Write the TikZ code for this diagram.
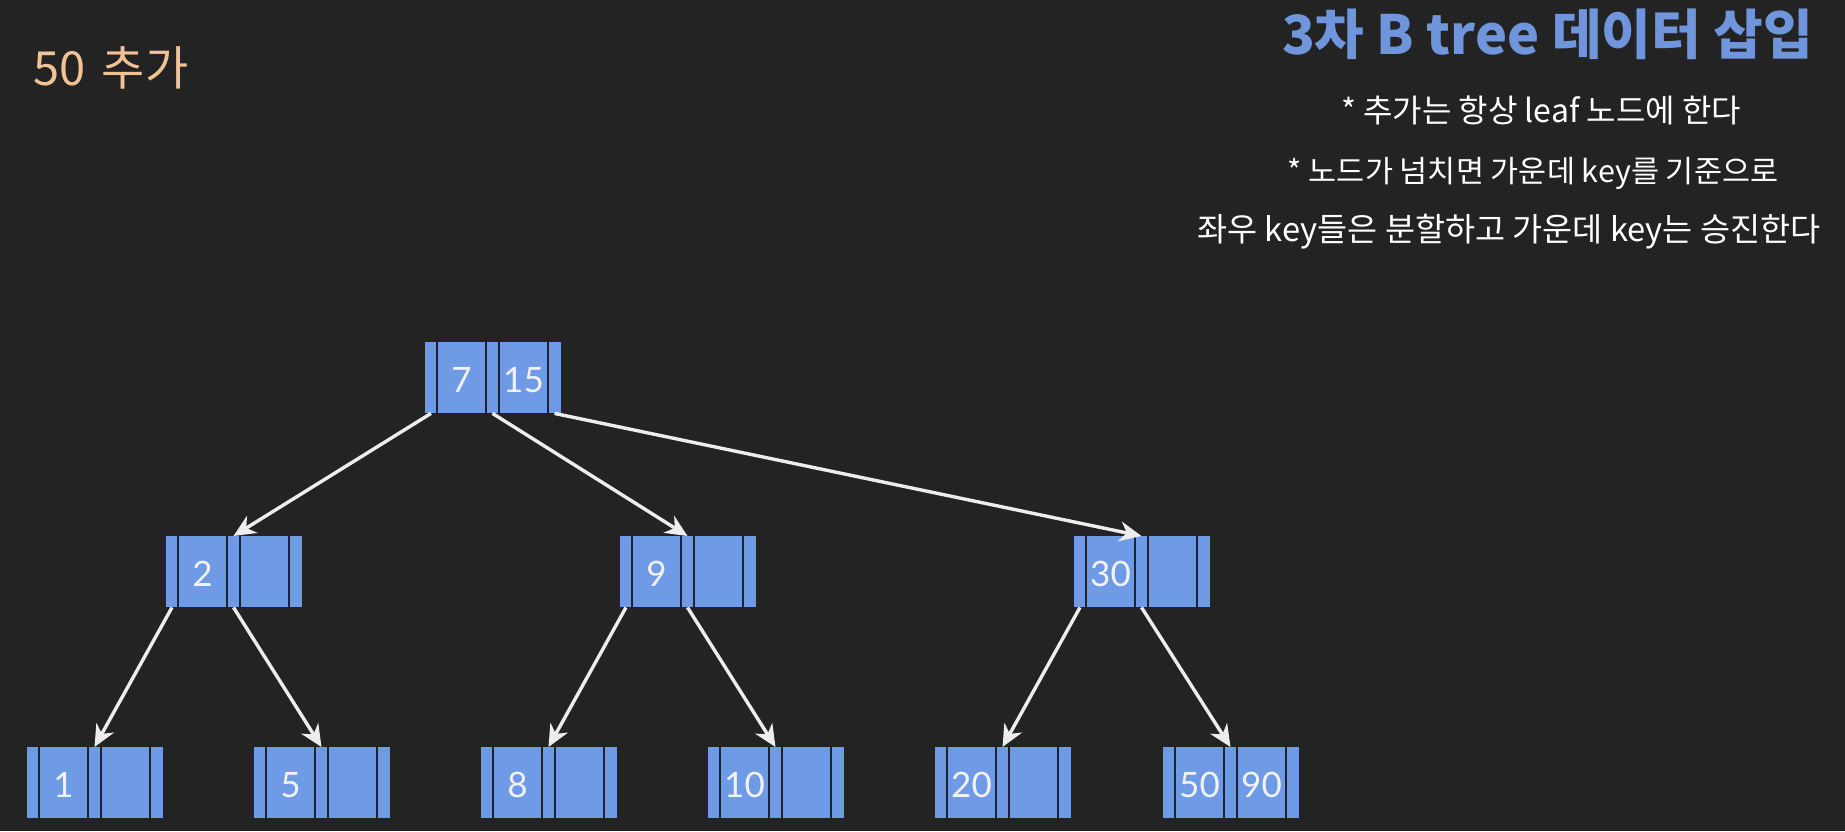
\documentclass[tikz,border=0pt]{standalone}
\usepackage{fontspec}
\setmainfont{Lato}
\newfontfamily\kr{Noto Sans CJK KR}
\usetikzlibrary{calc,arrows.meta}
\definecolor{bgc}{HTML}{232324}
\definecolor{boxc}{HTML}{6E9AE6}
\definecolor{divc}{HTML}{1C2335}
\definecolor{arrc}{HTML}{EDEDED}
\definecolor{titlec}{HTML}{6F96DC}
\definecolor{orangec}{HTML}{F2C295}
\definecolor{keyc}{HTML}{F2F2F2}
\tikzset{
  bbox/.style={rectangle, fill=boxc, draw=none, minimum width=136pt, minimum height=71pt, inner sep=0pt},
  divline/.style={divc, line width=2.6pt},
  keytext/.style={text=keyc, font=\fontsize{35}{40}\selectfont, inner sep=0pt},
  arr/.style={arrc, line width=3.4pt, -{Stealth[length=22pt,width=20pt,inset=7pt]}},
  krtext/.style={text=white, inner sep=0pt},
}
\newcommand{\bnode}[5]{%
  \node[bbox, anchor=north west] (#1) at (#2,#3) {};
  \draw[divline] ($(#1.north west)+(12,0)$) -- ($(#1.south west)+(12,0)$);
  \draw[divline] ($(#1.north west)+(61,0)$) -- ($(#1.south west)+(61,0)$);
  \draw[divline] ($(#1.north west)+(74,0)$) -- ($(#1.south west)+(74,0)$);
  \draw[divline] ($(#1.north west)+(123,0)$) -- ($(#1.south west)+(123,0)$);
  \node[keytext] (#1-ka) at ($(#1.north west)+(36.5,38)$) {#4};
  \node[keytext] (#1-kb) at ($(#1.north west)+(98.5,38)$) {#5};
  \coordinate (#1-p0) at ($(#1.south west)+(6,0)$);
  \coordinate (#1-p1) at ($(#1.south west)+(67.5,0)$);
  \coordinate (#1-p2) at ($(#1.south west)+(129.5,0)$);
  \coordinate (#1-in) at ($(#1.north west)+(67.5,0)$);
}
\begin{document}
\begin{tikzpicture}[x=1pt,y=-1pt]
\fill[bgc] (0,0) rectangle (1845,831);
\useasboundingbox (0,0) rectangle (1845,831);

\node[anchor=west, text=orangec, font=\kr\fontsize{47}{51}\selectfont, inner sep=0pt] (add) at (33,68) {50\hspace{0.35em}추가};
\node[anchor=east, text=titlec, font=\kr\bfseries\fontsize{54}{58}\selectfont, inner sep=0pt] (title) at (1813,34) {3차 B tree 데이터 삽입};
\node[krtext, font=\kr\fontsize{32}{37}\selectfont] (l1) at (1541,110) {* 추가는 항상 leaf 노드에 한다};
\node[krtext, font=\kr\fontsize{30.5}{35}\selectfont] (l2) at (1533,173) {* 노드가 넘치면 가운데 key를 기준으로};
\node[krtext, font=\kr\fontsize{32.7}{37}\selectfont] (l3) at (1509,232) {좌우 key들은 분할하고 가운데 key는 승진한다};

\bnode{root}{425}{342}{7}{15}
\bnode{n2}{166}{536}{2}{}
\bnode{n9}{620}{536}{9}{}
\bnode{n30}{1074}{536}{30}{}
\bnode{a1}{27}{747}{1}{}
\bnode{a5}{254}{747}{5}{}
\bnode{a8}{481}{747}{8}{}
\bnode{a10}{708}{747}{10}{}
\bnode{a20}{935}{747}{20}{}
\bnode{a50}{1163}{747}{50}{90}

\draw[arr] (root-p0) -- (n2-in);
\draw[arr] (root-p1) -- (n9-in);
\draw[arr] (root-p2) -- (n30-in);
\draw[arr] (n2-p0) -- (a1-in);
\draw[arr] (n2-p1) -- (a5-in);
\draw[arr] (n9-p0) -- (a8-in);
\draw[arr] (n9-p1) -- (a10-in);
\draw[arr] (n30-p0) -- (a20-in);
\draw[arr] (n30-p1) -- (a50-in);
\end{tikzpicture}
\end{document}
